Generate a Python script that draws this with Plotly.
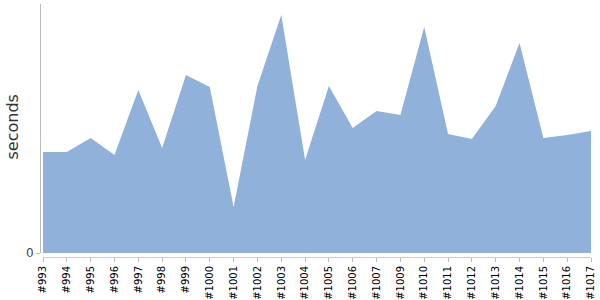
import plotly.graph_objects as go

builds = ["#993", "#994", "#995", "#996", "#997", "#998", "#999", "#1000", "#1001",
          "#1002", "#1003", "#1004", "#1005", "#1006", "#1007", "#1009", "#1010",
          "#1011", "#1012", "#1013", "#1014", "#1015", "#1016", "#1017"]
seconds = [10.1, 10.1, 11.5, 9.8, 16.3, 10.5, 17.8, 16.6, 4.6, 16.7, 23.8, 9.3,
           16.7, 12.5, 14.2, 13.8, 22.6, 11.9, 11.4, 14.7, 21.0, 11.5, 11.8, 12.2]

W, H = 600, 300
ml, mr, mt, mb = 40, 9, 4, 43
pw = W - ml - mr
ph = H - mt - mb

fig = go.Figure(go.Scatter(
    x=builds, y=seconds, mode="lines", fill="tozeroy",
    line=dict(width=0, color="#8FB1DA"), fillcolor="#8FB1DA",
    hoverinfo="x+y",
))

fig.update_layout(
    width=W, height=H,
    margin=dict(l=ml, r=mr, t=mt, b=mb, pad=0, autoexpand=False),
    paper_bgcolor="white", plot_bgcolor="white",
    showlegend=False,
    font=dict(family="DejaVu Sans", color="#333"),
    xaxis=dict(
        type="category", domain=[3 / pw, 1], range=[0, len(builds) - 1],
        anchor="free", position=0, automargin=False,
        showgrid=False, zeroline=False,
        showline=True, linecolor="#ccc", linewidth=1,
        ticks="outside", ticklen=4, tickcolor="#bbb",
        tickangle=-90, tickfont=dict(size=10, color="#000"),
    ),
    yaxis=dict(
        domain=[4 / ph, 1], range=[0, 24.9],
        anchor="free", position=0, automargin=False,
        showgrid=False, zeroline=False,
        showline=True, linecolor="#bbb", linewidth=1,
        ticks="outside", ticklen=4, tickcolor="#bbb",
        tickvals=[0], ticktext=["0"],
        tickfont=dict(size=12, color="#444"),
    ),
    annotations=[dict(
        text="seconds", textangle=-90, showarrow=False,
        xref="paper", yref="paper",
        x=(12 - ml) / pw, y=(H - mb - 127.5) / ph,
        xanchor="center", yanchor="middle",
        font=dict(size=16, color="#333"),
    )],
)

fig.write_html("out.html")
